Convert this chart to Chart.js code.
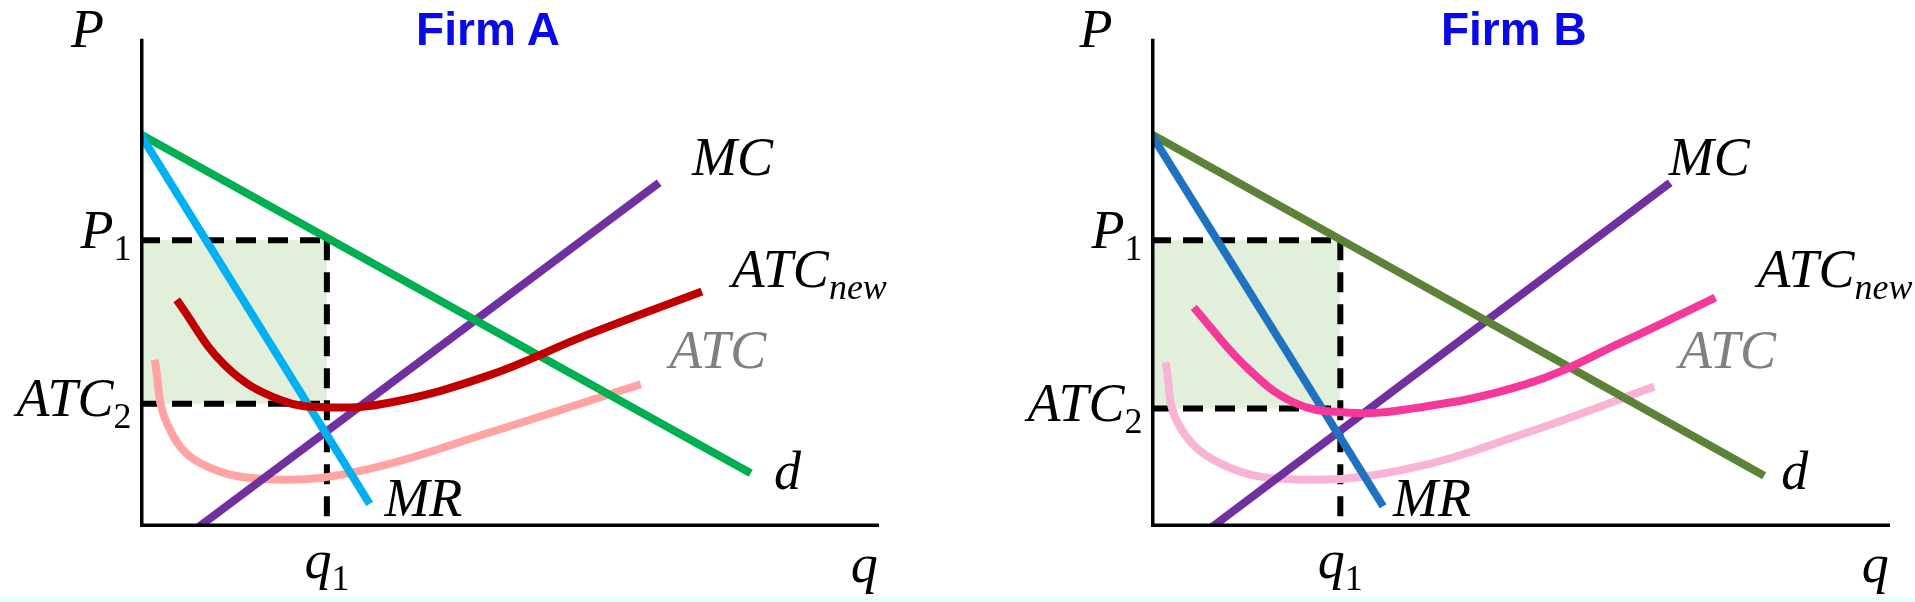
<!DOCTYPE html>
<html><head><meta charset="utf-8">
<script src="https://cdn.jsdelivr.net/npm/chart.js"></script>
<style>
html,body{margin:0;padding:0;background:#fff;width:1915px;height:602px;overflow:hidden}
#wrap{position:relative;width:1915px;height:602px;border-bottom:4px solid #e6ffff;box-sizing:border-box}
canvas{position:absolute;top:0}
.lb{position:absolute;transform:translate(-50%,-50%);font-family:"Liberation Serif","DejaVu Serif",serif;font-style:italic;font-size:54px;white-space:nowrap;color:#000;line-height:1}
.lb sub{font-size:36px;vertical-align:-12px}
.lb sub.n{font-style:normal}
.r{transform:translate(-100%,-50%)}
.tt{font-family:"Liberation Sans",Arial,sans-serif;font-style:normal;font-weight:bold;color:#0a0ae6;font-size:46px}
</style></head><body><div id="wrap">
<canvas id="cA" width="957" height="602" style="left:0"></canvas>
<canvas id="cB" width="958" height="602" style="left:957px"></canvas>
</div>
<script>
// Firm A data
const A_d=[[0,322],[500,44]];
const A_mr=[[0,322],[188,19]];
const A_mc=[[48,0],[425,282]];
const A_atcNew=[[30,186],[70,132],[115,104],[155,98],[205,102],[285,124],[365,157],[460,193]];
const A_atc=[[12,137],[22,85],[50,52],[110,39],[185,47],[285,77],[410,117]];
const A_q1=153, A_p1=235, A_atc2=101;
// Firm B data
const B_d=[[0,322],[502,42]];
const B_mr=[[0,322],[190,17]];
const B_mc=[[50,0],[425,282]];
const B_atcNew=[[35,180],[77,132],[117,102],[157,94],[207,96],[307,117],[387,152],[462,188]];
const B_atc=[[12,135],[22,85],[57,52],[117,39],[207,47],[307,77],[412,115]];
const B_q1=155, B_p1=235, B_atc2=97;

function pts(a){return a.map(p=>({x:p[0],y:p[1]}));}
function make(id,cfg,labels,padLeft,offsetLeft,cw){
  const ln=(data,color,w,extra)=>Object.assign({data:pts(data),borderColor:color,borderWidth:w,showLine:true,pointRadius:0,fill:false},extra||{});
  const dash={borderDash:[20,12]};
  const ds=[
    ln([[0,0],[0,400]],'#000',7),
    ln([[0,0],[605,0]],'#000',7),
    ln(cfg.atcNew,cfg.cNew,8,{tension:0.4}),
    ln(cfg.mr,cfg.cMr,8),
    ln(cfg.d,cfg.cD,8),
    ln(cfg.mc,'#7030a0',8),
    ln(cfg.atc,cfg.cAtc,8,{tension:0.4}),
    ln([[cfg.q1,cfg.p1],[cfg.q1,0]],'#000',6,dash),
    ln([[0,cfg.atc2],[cfg.q1,cfg.atc2]],'#000',6,dash),
    ln([[0,cfg.p1],[cfg.q1,cfg.p1]],'#000',6,dash),
    ln([[0,cfg.p1],[cfg.q1,cfg.p1]],'rgba(0,0,0,0)',0,{fill:{value:cfg.atc2},backgroundColor:'#e2efda'})
  ];
  new Chart(document.getElementById(id),{type:'scatter',data:{datasets:ds},
    options:{responsive:false,animation:false,events:[],
      layout:{padding:{left:padLeft,right:cw-padLeft-739,top:18,bottom:75}},
      plugins:{legend:{display:false},tooltip:{enabled:false}},
      scales:{x:{type:'linear',min:0,max:605,display:false},y:{type:'linear',min:0,max:417,display:false}}},
    plugins:[{id:'lbl',afterRender(ch){
      if(ch._lbl) return; ch._lbl=true;
      const xs=ch.scales.x, ys=ch.scales.y, w=document.getElementById('wrap');
      labels.forEach(l=>{const e=document.createElement('div');e.className='lb'+(l.c||'');
        e.innerHTML=l.t; if(l.col) e.style.color=l.col;
        e.style.left=(offsetLeft+xs.getPixelForValue(l.x))+'px';e.style.top=ys.getPixelForValue(l.y)+'px';w.appendChild(e);});
    }}]});
}
make('cA',{d:A_d,mr:A_mr,mc:A_mc,atcNew:A_atcNew,atc:A_atc,q1:A_q1,p1:A_p1,atc2:A_atc2,
  cD:'#00b050',cMr:'#00b0f0',cNew:'#c00000',cAtc:'#ffa3a3'},
 [{t:'P',x:-43,y:408},{t:'Firm A',x:285,y:408,c:' tt'},{t:'MC',x:485,y:303},{t:'ATC<sub>new</sub>',x:548,y:208},
  {t:'ATC',x:473,y:145,col:'#808080'},{t:'d',x:530,y:46},{t:'MR',x:232,y:24},{t:'q<sub class="n">1</sub>',x:153,y:-30},
  {t:'q',x:593,y:-30},{t:'P<sub class="n">1</sub>',x:-7,y:240,c:' r'},{t:'ATC<sub class="n">2</sub>',x:-7,y:102,c:' r'}],140,0,957);
make('cB',{d:B_d,mr:B_mr,mc:B_mc,atcNew:B_atcNew,atc:B_atc,q1:B_q1,p1:B_p1,atc2:B_atc2,
  cD:'#5b8236',cMr:'#1f72bf',cNew:'#f4399a',cAtc:'#f8b4d6'},
 [{t:'P',x:-45,y:408},{t:'Firm B',x:297,y:408,c:' tt'},{t:'MC',x:457,y:303},{t:'ATC<sub>new</sub>',x:560,y:208},
  {t:'ATC',x:472,y:145,col:'#808080'},{t:'d',x:527,y:46},{t:'MR',x:230,y:24},{t:'q<sub class="n">1</sub>',x:155,y:-30},
  {t:'q',x:593,y:-30},{t:'P<sub class="n">1</sub>',x:-7,y:240,c:' r'},{t:'ATC<sub class="n">2</sub>',x:-7,y:98,c:' r'}],194,957,958);
</script></body></html>
